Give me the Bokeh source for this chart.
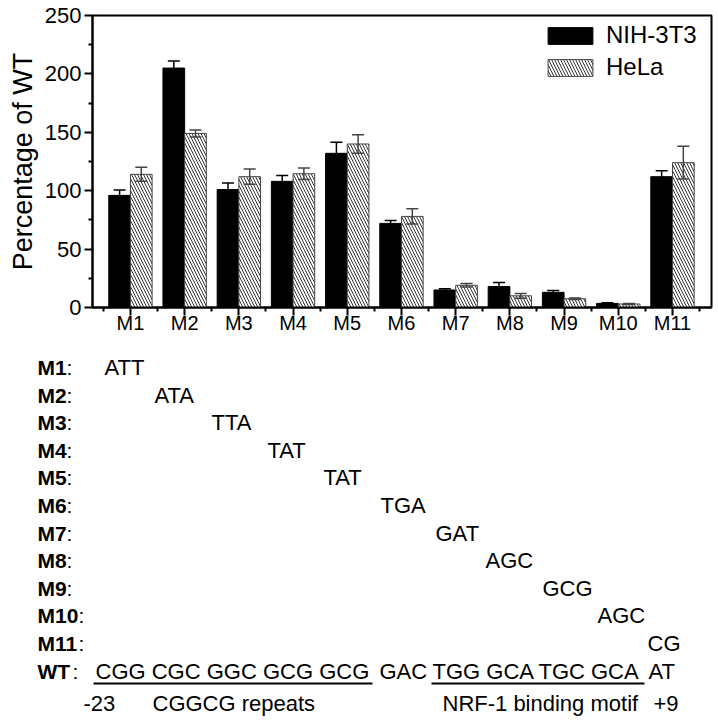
from bokeh.plotting import figure
from bokeh.models import (ColumnDataSource, Whisker, TeeHead, FixedTicker, Range1d,
                          Legend, LegendItem)
from bokeh.embed import file_html
from bokeh.resources import INLINE
from bokeh.core.properties import value

# ---------------- data ----------------
mutants = ["M1", "M2", "M3", "M4", "M5", "M6", "M7", "M8", "M9", "M10", "M11"]
nih3t3 = [96, 205, 101, 108, 132, 72, 15, 18, 13, 3.5, 112]
nih3t3_err = [4.5, 6, 5.5, 5, 9.5, 2.5, 1, 3.5, 1.5, 0.5, 5]
hela = [114, 149, 112, 114.5, 140, 78, 19, 10, 7.5, 3, 124]
hela_err = [6, 3, 6.5, 5, 8, 6.5, 1.5, 2, 0.7, 0.5, 14]
series_names = ["NIH-3T3", "HeLa"]
y_ticks = [0, 50, 100, 150, 200, 250]
y_label = "Percentage of WT"

row_labels = ["M1", "M2", "M3", "M4", "M5", "M6", "M7", "M8", "M9", "M10", "M11", "WT"]
mut_seqs = ["ATT", "ATA", "TTA", "TAT", "TAT", "TGA", "GAT", "AGC", "GCG", "AGC", "CG"]
wt_parts = ["CGG CGC GGC GCG GCG", "GAC", "TGG GCA TGC GCA", "AT"]
bottom_notes = ["-23", "CGGCG repeats", "NRF-1 binding motif", "+9"]

# ---------------- layout / style ----------------
FONT = "Liberation Sans"
pos = list(range(1, len(mutants) + 1))

p1 = figure(width=718, height=345, output_backend="svg", toolbar_location=None,
            x_range=Range1d(0.30, 11.72), y_range=Range1d(0, 250),
            min_border_left=92, min_border_right=7, min_border_top=15, min_border_bottom=38)
p1.grid.visible = False
p1.outline_line_color = "black"
p1.outline_line_width = 2
p1.background_fill_color = "white"

src_n = ColumnDataSource(dict(x=[i - 0.2 for i in pos], top=nih3t3,
                              upper=[v + e for v, e in zip(nih3t3, nih3t3_err)],
                              lower=[v - e for v, e in zip(nih3t3, nih3t3_err)]))
src_h = ColumnDataSource(dict(x=[i + 0.2 for i in pos], top=hela,
                              upper=[v + e for v, e in zip(hela, hela_err)],
                              lower=[v - e for v, e in zip(hela, hela_err)]))

r1 = p1.vbar(x="x", top="top", bottom=0, width=0.4, source=src_n,
             fill_color="black", line_color="black", line_width=1)
r2 = p1.vbar(x="x", top="top", bottom=0, width=0.4, source=src_h,
             fill_color="white", line_color="#444444", line_width=1,
             hatch_pattern="\\", hatch_color="#333333", hatch_scale=6, hatch_weight=1)

for src, col in ((src_n, "black"), (src_h, "#444444")):
    w = Whisker(source=src, base="x", upper="upper", lower="lower",
                line_color=col, line_width=1.5, level="overlay",
                upper_head=TeeHead(size=12, line_color=col, line_width=1.5),
                lower_head=TeeHead(size=12, line_color=col, line_width=1.5))
    p1.add_layout(w)

for ax in (p1.xaxis[0], p1.yaxis[0]):
    ax.axis_line_width = 2
    ax.major_tick_line_width = 2
    ax.minor_tick_line_width = 2
    ax.major_tick_in = 0
    ax.minor_tick_in = 0
    ax.major_tick_out = 8
    ax.minor_tick_out = 4
    ax.major_label_text_font = FONT
    ax.major_label_text_color = "black"

p1.xaxis.ticker = FixedTicker(ticks=pos, minor_ticks=[i + 0.5 for i in range(0, 12)])
p1.xaxis.major_label_overrides = {i: m for i, m in zip(pos, mutants)}
p1.xaxis.major_label_text_font_size = "20px"
p1.xaxis.major_label_standoff = -4

p1.yaxis.ticker = FixedTicker(ticks=y_ticks, minor_ticks=[t + 25 for t in y_ticks[:-1]])
p1.yaxis.major_label_text_font_size = "22px"
p1.yaxis.major_label_standoff = 3
p1.yaxis.axis_label = y_label
p1.yaxis.axis_label_text_font = FONT
p1.yaxis.axis_label_text_font_size = "27px"
p1.yaxis.axis_label_text_font_style = "normal"
p1.yaxis.axis_label_text_color = "black"
p1.yaxis.axis_label_standoff = 4

legend = Legend(items=[LegendItem(label=series_names[0], renderers=[r1]),
                       LegendItem(label=series_names[1], renderers=[r2])],
                location=(450, 226), glyph_width=56, glyph_height=21,
                label_text_font=FONT, label_text_font_size="24px", label_text_color="black",
                spacing=4, padding=0, margin=0, label_standoff=8,
                border_line_alpha=0, background_fill_alpha=0)
p1.add_layout(legend)

# ---------------- lower sequence panel (coordinates = page pixels) ----------------
p2 = figure(width=718, height=376, output_backend="svg", toolbar_location=None,
            x_range=Range1d(0, 718), y_range=Range1d(721, 345),
            x_axis_location=None, y_axis_location=None, min_border=0)
p2.grid.visible = False
p2.outline_line_color = None

row_y0, row_step = 367, 27.6
row_y = [row_y0 + i * row_step for i in range(len(row_labels))]
label_x = 37
colon_x = [66] * 9 + [78, 78, 72]
mut_x = [104, 154, 211, 267, 323, 380, 435, 485, 542, 597, 647]
wt_x = [95, 379, 432, 648]
note_x = [83, 152, 442, 653]
note_y = 703
line_y = 683
line_x0 = [93, 431]
line_x1 = [372, 644]

common = dict(text_font=value(FONT), text_baseline="middle", text_align="left",
              text_color="black")
p2.text(x=[label_x] * len(row_labels), y=row_y, text=row_labels,
        text_font_size="21px", text_font_style="bold", **common)
p2.text(x=colon_x, y=row_y, text=[":"] * len(row_labels), text_font_size="21px", **common)
p2.text(x=mut_x, y=row_y[:len(mut_seqs)], text=mut_seqs, text_font_size="22px", **common)
p2.text(x=wt_x, y=[row_y[-1]] * len(wt_parts), text=wt_parts, text_font_size="22px", **common)
p2.text(x=note_x, y=[note_y] * len(bottom_notes), text=bottom_notes, text_font_size="22px", **common)
p2.segment(x0=line_x0, x1=line_x1, y0=[line_y] * 2, y1=[line_y] * 2,
           line_color="black", line_width=2)

roots = [p1, p2]
open("out.html", "w").write(file_html(roots, INLINE))
